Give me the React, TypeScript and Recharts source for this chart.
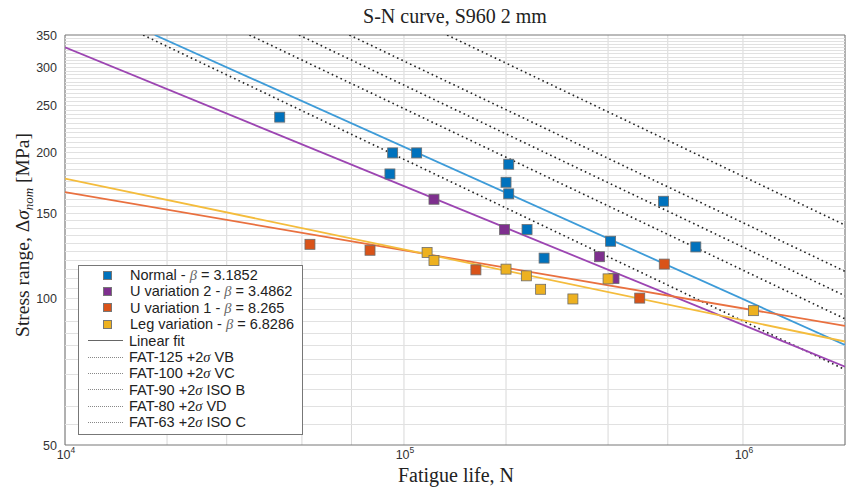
import { ComposedChart, Line, Scatter, XAxis, YAxis, CartesianGrid, ReferenceArea, ReferenceLine } from 'recharts';

// Test results [N, stress range MPa]
const normalPts = [
  { n: 43000, s: 237 }, { n: 90900, s: 181 }, { n: 92600, s: 200 }, { n: 109000, s: 200 },
  { n: 200000, s: 174 }, { n: 203700, s: 189.5 }, { n: 203700, s: 164.7 }, { n: 230700, s: 139 },
  { n: 259000, s: 121.4 }, { n: 407000, s: 131.5 }, { n: 583000, s: 159 }, { n: 726000, s: 128 },
];
const uVar2Pts = [
  { n: 122600, s: 160.5 }, { n: 198000, s: 139 }, { n: 377600, s: 122.2 }, { n: 416500, s: 110.2 },
];
const uVar1Pts = [
  { n: 52800, s: 129.6 }, { n: 79400, s: 126 }, { n: 163000, s: 114.8 }, { n: 496000, s: 100.4 },
  { n: 586000, s: 118 },
];
const legPts = [
  { n: 117000, s: 124.7 }, { n: 122600, s: 120 }, { n: 200000, s: 115.2 }, { n: 229600, s: 111.6 },
  { n: 253000, s: 104.7 }, { n: 315000, s: 100 }, { n: 400000, s: 110 }, { n: 1074000, s: 94.6 },
];

// Linear fits (end points)
const normalFit = [{ n: 18400, s: 350 }, { n: 2000000, s: 80.4 }];
const uVar2Fit = [{ n: 10000, s: 330 }, { n: 2000000, s: 72.5 }];
const uVar1Fit = [{ n: 10000, s: 166 }, { n: 2000000, s: 88 }];
const legFit = [{ n: 10000, s: 177 }, { n: 2000000, s: 81.7 }];

// FAT design curves +2 sigma
const fat125 = [{ n: 134000, s: 350 }, { n: 2000000, s: 142 }];
const fat100 = [{ n: 69000, s: 350 }, { n: 2000000, s: 114 }];
const fat90 = [{ n: 49000, s: 350 }, { n: 2000000, s: 101.5 }];
const fat80 = [{ n: 35000, s: 350 }, { n: 2000000, s: 91 }];
const fat63 = [{ n: 17000, s: 350 }, { n: 2000000, s: 71.5 }];

const xTicks = [1e4, 1e5, 1e6];
const yTicks = [50, 100, 150, 200, 250, 300, 350];
const xGrid = [1e4, 2e4, 3e4, 4e4, 5e4, 6e4, 7e4, 8e4, 9e4, 1e5, 2e5, 3e5, 4e5, 5e5, 6e5, 7e5, 8e5, 9e5, 1e6, 2e6];
const yGrid = Array.from({ length: 59 }, (_, i) => 55 + i * 5);

const seriesInfo = [
  { name: 'Normal', beta: '3.1852', fill: '#0072BD', line: '#3D9BD8', pts: normalPts, fit: normalFit },
  { name: 'U variation 2', beta: '3.4862', fill: '#7E2F8E', line: '#9C45B2', pts: uVar2Pts, fit: uVar2Fit },
  { name: 'U variation 1', beta: '8.265', fill: '#D95319', line: '#E9703F', pts: uVar1Pts, fit: uVar1Fit },
  { name: 'Leg variation', beta: '6.8286', fill: '#EDB120', line: '#F4BC3C', pts: legPts, fit: legFit },
];
const fatInfo = [
  { label: 'FAT-125 +2', tail: 'VB', data: fat125 },
  { label: 'FAT-100 +2', tail: 'VC', data: fat100 },
  { label: 'FAT-90 +2', tail: 'ISO B', data: fat90 },
  { label: 'FAT-80 +2', tail: 'VD', data: fat80 },
  { label: 'FAT-63 +2', tail: 'ISO C', data: fat63 },
];

const SANS = '"Liberation Sans", Arial, sans-serif';
const SERIF = '"Liberation Serif", "Times New Roman", serif';

function squareShape(color: string) {
  return (props: any) => (
    <rect x={props.cx - 5} y={props.cy - 5} width={10} height={10} fill={color} stroke="#6d6d6d" strokeWidth={0.8} />
  );
}

function XTick({ x, y, payload }: any) {
  const exp = Math.round(Math.log10(payload.value));
  return (
    <text x={x + 1} y={y + 6} fontFamily={SANS} fontSize={12.5} fill="#333" textAnchor="middle">
      10<tspan dy={-6} fontSize={8.5}>{exp}</tspan>
    </text>
  );
}

function YTick({ x, y, payload }: any) {
  return (
    <text x={x} y={y + 4.5} fontFamily={SANS} fontSize={12.5} fill="#333" textAnchor="end">{payload.value}</text>
  );
}

function Legend() {
  const row = 16.4;
  return (
    <div style={{ position: 'absolute', left: 78, top: 265, width: 225, height: 170, border: '1px solid #777', background: '#fff', boxSizing: 'border-box', fontFamily: SANS, fontSize: 14.5, color: '#222' }}>
      {seriesInfo.map((s, i) => (
        <div key={s.name} style={{ position: 'absolute', left: 0, top: 1 + i * row, height: row, display: 'flex', alignItems: 'center', whiteSpace: 'nowrap' }}>
          <span style={{ width: 7, height: 7, marginLeft: 24, marginRight: 18, background: s.fill, border: '0.5px solid #777' }} />
          <span>{s.name} - <i style={{ fontFamily: SERIF, color: '#666' }}>β</i> = {s.beta}</span>
        </div>
      ))}
      <div style={{ position: 'absolute', left: 0, top: 1 + 4 * row, height: row, display: 'flex', alignItems: 'center', whiteSpace: 'nowrap' }}>
        <span style={{ width: 35, height: 0, marginLeft: 9, marginRight: 6, borderTop: '1.3px solid #666' }} />
        <span>Linear fit</span>
      </div>
      {fatInfo.map((f, i) => (
        <div key={f.label} style={{ position: 'absolute', left: 0, top: 1 + (5 + i) * row, height: row, display: 'flex', alignItems: 'center', whiteSpace: 'nowrap' }}>
          <span style={{ width: 35, height: 0, marginLeft: 9, marginRight: 6, borderTop: '1px dotted #888' }} />
          <span>{f.label}<i style={{ fontFamily: SERIF }}>σ</i> {f.tail}</span>
        </div>
      ))}
    </div>
  );
}

export default function App() {
  return (
    <div style={{ position: 'absolute', left: 0, top: 0, width: 848, height: 488, background: '#fff' }}>
      <div style={{ position: 'absolute', left: 0, top: 5, width: 910, textAlign: 'center', fontFamily: SERIF, fontSize: 20, color: '#222' }}>
        S-N curve, S960 2 mm
      </div>
      <ComposedChart width={848} height={488} margin={{ top: 35, right: 3, bottom: 18, left: 8 }}>
        <CartesianGrid horizontal={false} verticalValues={xGrid} stroke="#d8d8d8" strokeWidth={1} />
        {yGrid.map((v) => (
          <ReferenceLine key={'h' + v} y={v} stroke="#e1e1e1" strokeWidth={1} shapeRendering="crispEdges" />
        ))}
        <XAxis
          dataKey="n"
          type="number"
          scale="log"
          domain={[1e4, 2e6]}
          allowDataOverflow
          ticks={xTicks}
          tick={<XTick />}
          tickLine={false}
          axisLine={false}
          height={25}
          label={{
            content: () => (
              <text x={456} y={482} textAnchor="middle" fontFamily={SERIF} fontSize={20} fill="#222">Fatigue life, N</text>
            ),
          }}
        />
        <YAxis
          dataKey="s"
          type="number"
          scale="log"
          domain={[50, 350]}
          allowDataOverflow
          ticks={yTicks}
          tick={<YTick />}
          tickLine={false}
          axisLine={false}
          width={57}
          label={{
            content: () => (
              <text x={0} y={0} transform="translate(29,235) rotate(-90)" textAnchor="middle" fontFamily={SERIF} fontSize={19.5} fill="#222">
                Stress range, Δ<tspan fontStyle="italic">σ</tspan>
                <tspan fontStyle="italic" fontSize={13} dy={4}>nom</tspan>
                <tspan dy={-4}>{'\u00a0[MPa]'}</tspan>
              </text>
            ),
          }}
        />
        <ReferenceArea x1={1e4} x2={2e6} y1={50} y2={350} fill="none" stroke="#777" strokeWidth={1} ifOverflow="visible" />
        {fatInfo.map((f) => (
          <Line key={f.label} data={f.data} dataKey="s" stroke="#222" strokeWidth={1.6} strokeDasharray="1.6 3.2" dot={false} isAnimationActive={false} />
        ))}
        {seriesInfo.map((s) => (
          <Line key={s.name + 'fit'} data={s.fit} dataKey="s" stroke={s.line} strokeWidth={1.8} dot={false} isAnimationActive={false} />
        ))}
        {seriesInfo.map((s) => (
          <Scatter key={s.name} data={s.pts} dataKey="s" fill={s.fill} shape={squareShape(s.fill)} isAnimationActive={false} />
        ))}
      </ComposedChart>
      <Legend />
    </div>
  );
}
